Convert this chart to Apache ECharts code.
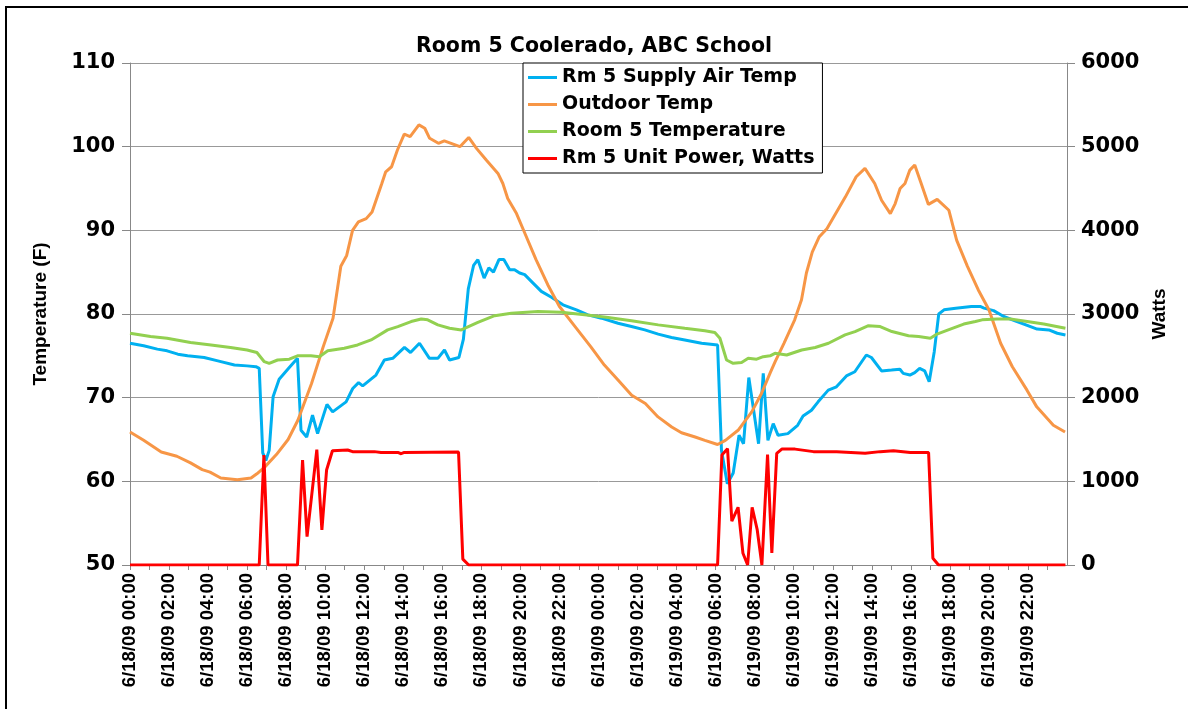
<!DOCTYPE html>
<html>
<head>
<meta charset="utf-8">
<title>Room 5 Coolerado, ABC School</title>
<script src="https://cdn.jsdelivr.net/npm/echarts@6/dist/echarts.min.js"></script>
<style>
  html, body { margin: 0; padding: 0; background: #fff; }
  #chart { width: 1188px; height: 709px; }
</style>
</head>
<body>
<div id="chart"></div>
<script>
// x values are hours since 6/18/09 00:00
const timeLabels = [
  '6/18/09 00:00', '6/18/09 02:00', '6/18/09 04:00', '6/18/09 06:00', '6/18/09 08:00', '6/18/09 10:00',
  '6/18/09 12:00', '6/18/09 14:00', '6/18/09 16:00', '6/18/09 18:00', '6/18/09 20:00', '6/18/09 22:00',
  '6/19/09 00:00', '6/19/09 02:00', '6/19/09 04:00', '6/19/09 06:00', '6/19/09 08:00', '6/19/09 10:00',
  '6/19/09 12:00', '6/19/09 14:00', '6/19/09 16:00', '6/19/09 18:00', '6/19/09 20:00', '6/19/09 22:00',
];

const supplyAir = [
  [0, 76.5], [0.7, 76.2], [1.4, 75.8], [1.9, 75.6], [2.45, 75.2], [2.95, 75.0], [3.8, 74.8], [4.5, 74.4],
  [5.35, 73.9], [6.0, 73.8], [6.45, 73.7], [6.62, 73.5], [6.8, 63.4], [6.96, 62.5], [7.13, 63.7], [7.33, 70.1],
  [7.64, 72.2], [8.16, 73.6], [8.58, 74.7], [8.76, 66.1], [9.05, 65.3], [9.35, 67.9], [9.61, 65.7], [10.09, 69.2],
  [10.38, 68.3], [11.07, 69.5], [11.41, 71.1], [11.71, 71.8], [11.92, 71.4], [12.6, 72.7], [13.03, 74.5], [13.46, 74.7],
  [14.06, 76.0], [14.37, 75.4], [14.83, 76.5], [15.34, 74.7], [15.77, 74.7], [16.11, 75.7], [16.37, 74.5], [16.85, 74.8],
  [17.08, 77.0], [17.33, 83.0], [17.6, 85.8], [17.82, 86.5], [18.14, 84.3], [18.38, 85.5], [18.62, 85.0], [18.9, 86.5],
  [19.15, 86.5], [19.45, 85.3], [19.7, 85.3], [19.96, 84.9], [20.22, 84.7], [20.56, 83.9], [21.07, 82.7], [21.59, 82.0],
  [22.18, 81.1], [22.87, 80.5], [23.46, 79.9], [24.15, 79.5], [25.0, 78.9], [25.69, 78.5], [26.37, 78.1], [27.06, 77.6],
  [27.74, 77.2], [28.42, 76.9], [29.28, 76.5], [30.1, 76.3], [30.3, 63.7], [30.6, 59.7], [30.9, 61.0], [31.2, 65.5],
  [31.43, 64.5], [31.7, 72.4], [32.2, 64.5], [32.44, 72.9], [32.68, 64.9], [32.95, 66.9], [33.2, 65.5], [33.7, 65.7],
  [34.2, 66.7], [34.48, 67.8], [34.91, 68.5], [35.25, 69.5], [35.77, 70.9], [36.19, 71.3], [36.7, 72.6], [37.13, 73.1],
  [37.72, 75.1], [37.98, 74.8], [38.5, 73.2], [39.01, 73.3], [39.44, 73.4], [39.61, 72.9], [39.95, 72.7], [40.2, 73.0],
  [40.45, 73.5], [40.71, 73.2], [40.94, 71.9], [41.2, 75.5], [41.43, 80.0], [41.7, 80.5], [42.3, 80.7], [43.1, 80.9],
  [43.55, 80.9], [43.75, 80.7], [44.24, 80.4], [44.76, 79.7], [45.44, 79.1], [46.13, 78.5], [46.47, 78.2], [47.07, 78.1],
  [47.5, 77.7], [47.92, 77.5],
];

const outdoorTemp = [
  [0, 65.9], [0.7, 64.9], [1.6, 63.5], [2.4, 63.0], [3.1, 62.2], [3.7, 61.4], [4.1, 61.1], [4.65, 60.4],
  [5.5, 60.2], [6.2, 60.4], [6.5, 60.9], [6.9, 61.7], [7.5, 63.2], [8.1, 65.0], [8.6, 67.3], [9.3, 71.7],
  [9.9, 76.1], [10.4, 79.5], [10.8, 85.7], [11.1, 87.0], [11.4, 90.0], [11.7, 91.0], [12.1, 91.4], [12.4, 92.2],
  [12.9, 95.6], [13.1, 97.0], [13.4, 97.6], [13.7, 99.6], [14.05, 101.5], [14.35, 101.2], [14.8, 102.6], [15.1, 102.2],
  [15.35, 101.0], [15.8, 100.4], [16.1, 100.7], [16.45, 100.4], [16.9, 100.0], [17.35, 101.1], [17.75, 99.8], [18.25, 98.4],
  [18.85, 96.8], [19.1, 95.6], [19.35, 93.8], [19.8, 92.0], [20.2, 89.8], [20.8, 86.5], [21.4, 83.5], [22.0, 80.9],
  [22.8, 78.5], [23.6, 76.1], [24.3, 73.9], [25.0, 72.1], [25.7, 70.3], [26.4, 69.3], [27.05, 67.7], [27.75, 66.5],
  [28.25, 65.8], [28.95, 65.3], [29.45, 64.9], [30.1, 64.4], [30.5, 64.9], [31.15, 66.1], [31.85, 68.3], [32.35, 70.5],
  [32.8, 73.0], [33.05, 74.3], [33.5, 76.5], [34.05, 79.3], [34.4, 81.7], [34.65, 84.9], [34.95, 87.4], [35.3, 89.2],
  [35.7, 90.2], [36.1, 91.8], [36.65, 94.0], [37.2, 96.4], [37.65, 97.4], [38.15, 95.6], [38.5, 93.6], [38.95, 92.0],
  [39.2, 93.2], [39.45, 95.0], [39.7, 95.6], [39.95, 97.2], [40.2, 97.8], [40.5, 95.8], [40.9, 93.1], [41.35, 93.7],
  [41.95, 92.4], [42.35, 88.8], [42.9, 85.7], [43.45, 82.9], [44.0, 80.5], [44.6, 76.5], [45.2, 73.7], [45.95, 70.9],
  [46.45, 68.9], [47.3, 66.7], [47.9, 65.9],
];

const roomTemp = [
  [0, 77.7], [1.05, 77.3], [1.9, 77.1], [3.1, 76.6], [4.15, 76.3], [5.15, 76.0], [6.0, 75.7], [6.5, 75.4],
  [6.88, 74.3], [7.13, 74.1], [7.56, 74.5], [8.16, 74.6], [8.58, 75.0], [9.27, 75.0], [9.7, 74.9], [10.13, 75.6],
  [10.98, 75.9], [11.66, 76.3], [12.35, 76.9], [13.2, 78.1], [13.72, 78.5], [14.4, 79.1], [14.92, 79.4], [15.25, 79.3],
  [15.77, 78.7], [16.37, 78.3], [16.97, 78.1], [17.82, 79.0], [18.68, 79.8], [19.53, 80.1], [20.9, 80.3], [22.1, 80.2],
  [23.29, 79.9], [24.4, 79.6], [25.69, 79.2], [27.06, 78.7], [28.42, 78.3], [29.45, 78.0], [29.96, 77.8], [30.22, 77.1],
  [30.56, 74.5], [30.9, 74.1], [31.33, 74.2], [31.67, 74.7], [32.1, 74.6], [32.44, 74.9], [32.79, 75.0], [33.04, 75.3],
  [33.64, 75.1], [34.41, 75.7], [35.1, 76.0], [35.78, 76.5], [36.63, 77.5], [37.14, 77.9], [37.83, 78.6], [38.43, 78.5],
  [39.03, 77.9], [39.88, 77.4], [40.4, 77.3], [41.0, 77.1], [41.34, 77.6], [42.02, 78.2], [42.71, 78.8], [43.31, 79.1],
  [43.65, 79.3], [44.42, 79.4], [45.1, 79.4], [45.96, 79.1], [46.81, 78.8], [47.92, 78.3],
];

const unitPower = [
  [0, 0], [6.62, 0], [6.86, 1315], [7.07, 0], [8.58, 0], [8.84, 1255], [9.07, 340], [9.57, 1378],
  [9.83, 420], [10.07, 1135], [10.37, 1366], [11.15, 1375], [11.4, 1355], [12.52, 1355], [12.86, 1345], [13.72, 1345],
  [13.89, 1330], [14.05, 1345], [16.83, 1350], [17.05, 70], [17.35, 0], [30.1, 0], [30.32, 1315], [30.61, 1390],
  [30.83, 525], [31.15, 690], [31.4, 140], [31.64, 0], [31.87, 690], [32.13, 422], [32.37, 0], [32.66, 1320],
  [32.88, 145], [33.13, 1335], [33.39, 1385], [34.07, 1385], [35.01, 1355], [36.2, 1355], [37.66, 1335], [38.43, 1355],
  [39.11, 1365], [39.97, 1345], [40.91, 1345], [41.13, 80], [41.42, 0], [47.92, 0],
];

const seriesNames = ['Rm 5 Supply Air Temp', 'Outdoor Temp', 'Room 5 Temperature', 'Rm 5 Unit Power, Watts'];
const seriesColors = ['#00B0F0', '#F79646', '#92D050', '#FF0000'];

const chart = echarts.init(document.getElementById('chart'));

const lineSeries = (name, color, data, yIdx) => ({
  name,
  type: 'line',
  yAxisIndex: yIdx,
  data,
  symbol: 'none',
  smooth: false,
  color,
  lineStyle: { color, width: 3 },
  animation: false,
});

const boldFont = 'DejaVu Sans';

chart.setOption({
  animation: false,
  title: {
    text: 'Room 5 Coolerado, ABC School',
    left: 'center',
    top: 31,
    textStyle: { fontFamily: boldFont, fontWeight: 'bold', fontSize: 20.5, color: '#000' },
  },
  legend: {
    data: seriesNames,
    orient: 'vertical',
    left: 523,
    top: 63,
    padding: [5, 8, 5, 5],
    itemGap: 8,
    itemWidth: 29,
    itemHeight: 3,
    icon: 'rect',
    backgroundColor: '#fff',
    borderColor: '#000',
    borderWidth: 1,
    textStyle: { fontFamily: boldFont, fontWeight: 'bold', fontSize: 19, color: '#000', lineHeight: 19 },
  },
  graphic: [{
    type: 'rect',
    shape: { x: 6, y: 7, width: 1200, height: 720 },
    style: { fill: 'none', stroke: '#000', lineWidth: 2 },
    silent: true,
  }],
  grid: { left: 130, right: 121, top: 63, bottom: 144, containLabel: false },
  xAxis: {
    type: 'value',
    min: 0,
    max: 48,
    interval: 1,
    axisLine: { show: true, lineStyle: { color: '#888' } },
    axisTick: { show: true, length: 5, lineStyle: { color: '#888' } },
    splitLine: { show: false },
    axisLabel: {
      rotate: 90,
      margin: 8,
      showMaxLabel: false,
      fontFamily: 'Liberation Sans',
      fontWeight: 'bold',
      fontSize: 18.5,
      color: '#000',
      formatter: (v) => (v % 2 === 0 && v < 48 ? timeLabels[v / 2] : ''),
    },
  },
  yAxis: [
    {
      type: 'value',
      min: 50,
      max: 110,
      interval: 10,
      name: 'Temperature (F)',
      nameLocation: 'middle',
      nameGap: 80,
      nameTextStyle: { fontFamily: 'Liberation Sans', fontWeight: 'bold', fontSize: 19, color: '#000' },
      axisLine: { show: true, lineStyle: { color: '#888' } },
      axisTick: { show: true, length: 8, lineStyle: { color: '#888' } },
      splitLine: { show: true, lineStyle: { color: '#999', width: 1 } },
      axisLabel: { fontFamily: boldFont, fontWeight: 'bold', fontSize: 21, color: '#000', margin: 15 },
    },
    {
      type: 'value',
      min: 0,
      max: 6000,
      interval: 1000,
      name: 'Watts',
      nameLocation: 'middle',
      nameGap: 83,
      nameTextStyle: { fontFamily: 'Liberation Sans', fontWeight: 'bold', fontSize: 19, color: '#000' },
      axisLine: { show: true, lineStyle: { color: '#888' } },
      axisTick: { show: true, length: 8, lineStyle: { color: '#888' } },
      splitLine: { show: false },
      axisLabel: {
        fontFamily: boldFont, fontWeight: 'bold', fontSize: 21, color: '#000', margin: 14,
        formatter: (v) => String(v),
      },
    },
  ],
  series: [
    lineSeries(seriesNames[0], seriesColors[0], supplyAir, 0),
    lineSeries(seriesNames[1], seriesColors[1], outdoorTemp, 0),
    lineSeries(seriesNames[2], seriesColors[2], roomTemp, 0),
    lineSeries(seriesNames[3], seriesColors[3], unitPower, 1),
  ],
});
</script>
</body>
</html>
